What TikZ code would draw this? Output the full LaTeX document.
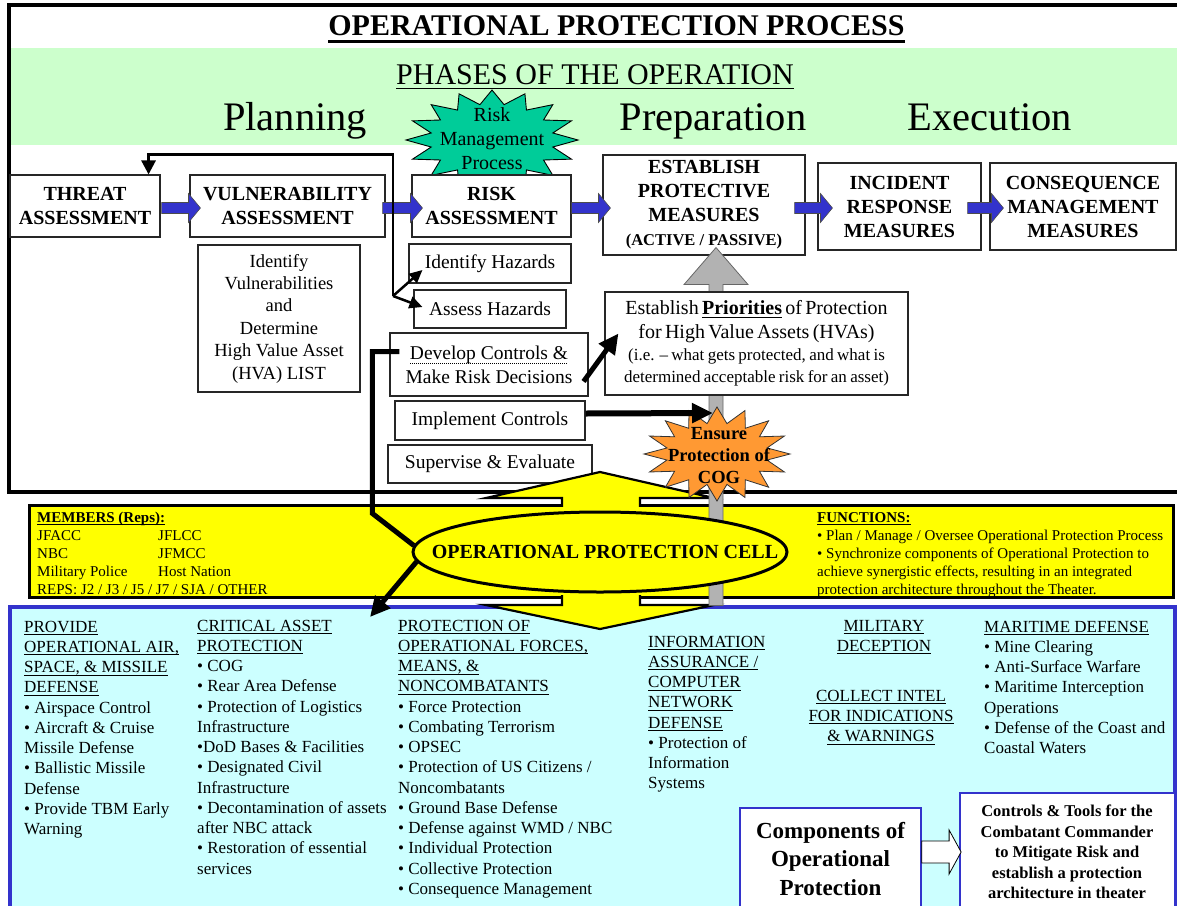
\documentclass[tikz,border=0pt]{standalone}
\usepackage{fontspec}
\setmainfont{Liberation Serif}
\usetikzlibrary{shapes.geometric,arrows.meta,calc}
\definecolor{band}{HTML}{CCFFCC}
\definecolor{rmpgreen}{HTML}{00CC99}
\definecolor{arrblue}{HTML}{3333CC}
\definecolor{graya}{HTML}{B2B2B2}
\definecolor{cogorange}{HTML}{FF9933}
\definecolor{ylw}{HTML}{FFFF00}
\definecolor{cyanbg}{HTML}{CCFFFF}
\newcommand{\fs}[2]{\fontsize{#1}{#2}\selectfont}
\newcommand{\undlx}[3]{\setbox0=\hbox{#3}\leavevmode\rlap{\rule[#1]{\wd0}{#2}}\box0}
\newcommand{\undl}[1]{\undlx{-0.18em}{0.06em}{#1}}
\newcommand{\dotul}[1]{\setbox0=\hbox{#1}\leavevmode\rlap{\raisebox{-0.22em}{\hbox to \wd0{\leaders\hbox to 2pt{\hss\rule{0.9pt}{0.6pt}\hss}\hfil}}}\box0}
\newcommand{\barrow}[3]{\filldraw[#3] let \p1=(#1), \p2=(#2) in
  (\x1,\y2+5.5pt) -- (\x2-12pt,\y2+5.5pt) -- (\x2-12pt,\y2+14.5pt) -- (\x2,\y2)
  -- (\x2-12pt,\y2-14.5pt) -- (\x2-12pt,\y2-5.5pt) -- (\x1,\y2-5.5pt) -- cycle;}
\begin{document}
\begin{tikzpicture}[x=1pt,y=-1pt,line join=miter,
  box/.style={draw=black!85, line width=1.1pt, fill=white, inner sep=0pt, align=center},
  hdr/.style={box, font=\bfseries\fs{20}{24}},
  sub/.style={box, font=\fs{19.5}{24}},
  barrowst/.style={fill=arrblue, draw=black!70, line width=0.6pt},
  fbline/.style={line width=2.8pt, -{Triangle[length=14pt,width=14pt]}},
  brline/.style={line width=2.5pt, -{Triangle[length=13pt,width=12pt]}},
  bigarr/.style={line width=5pt, -{Triangle[length=20pt,width=19pt]}},
  hugearr/.style={line width=6pt, -{Triangle[length=21pt,width=19pt]}},
  col/.style={anchor=north west, inner sep=0pt, align=left, font=\fs{17}{20.25}},
  txt/.style={inner sep=0pt, align=center}
]
\useasboundingbox (0,0) rectangle (1177,905);
% frame and band
\draw[line width=4pt] (8.5,5) rectangle (1200,492);
\fill[band] (10.5,48) rectangle (1177,145);
\node[txt, anchor=base, font=\bfseries\fs{30}{36}] (title) at (616.5,35) {\undlx{-0.26em}{0.09em}{OPERATIONAL PROTECTION PROCESS}};
\node[txt, anchor=base, font=\fs{30}{36}] (phases) at (595,84) {\undlx{-0.18em}{0.05em}{PHASES OF THE OPERATION}};
\node[txt, anchor=base, font=\fs{40.5}{48}] (planning) at (295,130) {Planning};
\node[txt, anchor=base, font=\fs{40.5}{48}] (preparation) at (713,130) {Preparation};
\node[txt, anchor=base, font=\fs{40.5}{48}] (execution) at (990,130) {Execution};
% risk management star
\filldraw[fill=rmpgreen, draw=black, line width=0.9pt] plot[samples=33, domain=0:32, variable=\t]
  ({492+(74+12*cos(180*\t))*cos(11.25*\t)}, {140+(43+7*cos(180*\t))*sin(11.25*\t)}) -- cycle;
\node[txt, font=\fs{20}{24}] (rmp) at (492,139) {Risk\\Management\\Process};
% main boxes
\node[hdr, minimum width=150, minimum height=62] (threat) at (85,206) {THREAT\\ASSESSMENT};
\node[hdr, minimum width=195, minimum height=62] (vuln) at (287.5,206) {VULNERABILITY\\ASSESSMENT};
\node[hdr, minimum width=159, minimum height=62] (risk) at (491.5,206) {RISK\\ASSESSMENT};
\node[hdr, minimum width=202, minimum height=100] (est) at (704,205) {ESTABLISH\\PROTECTIVE\\MEASURES\\{\fs{16.5}{20}(ACTIVE / PASSIVE)}};
\node[hdr, minimum width=163, minimum height=87] (inc) at (899.5,206.5) {INCIDENT\\RESPONSE\\MEASURES};
\node[hdr, minimum width=186, minimum height=87] (cons) at (1083,206.5) {CONSEQUENCE\\MANAGEMENT\\MEASURES};
% blue block arrows
\barrow{$(threat.east)+(1,2)$}{$(vuln.west)+(11,2)$}{barrowst}
\barrow{$(vuln.east)+(-3,2)$}{$(risk.west)+(11,2)$}{barrowst}
\barrow{$(risk.east)+(0,2)$}{$(est.west)+(8,3)$}{barrowst}
\barrow{$(est.east)+(-11,3)$}{$(inc.west)+(15,1.5)$}{barrowst}
\barrow{$(inc.east)+(-14,1.5)$}{$(cons.west)+(14,1.5)$}{barrowst}
% sub boxes
\node[box, font=\fs{18.5}{22.4}, minimum width=162, minimum height=147] (vlist) at (279,318.5) {Identify\\Vulnerabilities\\and\\Determine\\High Value Asset\\(HVA) LIST};
\node[sub, minimum width=162, minimum height=39] (idhaz) at (490,263.5) {Identify Hazards};
\node[sub, minimum width=152, minimum height=38] (assess) at (490,309) {Assess Hazards};
\node[sub, minimum width=198, minimum height=63] (develop) at (489,364.5) {\dotul{Develop Controls \&}\\Make Risk Decisions};
\node[sub, minimum width=190, minimum height=39] (implement) at (490,420.5) {Implement Controls};
\node[sub, minimum width=204, minimum height=38] (supervise) at (490,464) {Supervise \& Evaluate};
% feedback connector
\coordinate (fb) at (393,296);
\coordinate (tin) at ($(threat.north east)+(-12,0)$);
\draw[fbline] (fb) |- ($(tin)+(0,-20)$) -- (tin);
\draw[brline] (fb) -- ($(idhaz.west)+(14,6.5)$);
\draw[brline] (fb) -- ($(assess.west)+(9,-2)$);
% bottom cyan area
\filldraw[fill=cyanbg, draw=arrblue, line width=4pt] (10,607) rectangle (1175,930);
% yellow cell band
\filldraw[fill=ylw, draw=black, line width=3pt] (29,505) rectangle (1173,597);
\filldraw[fill=ylw, draw=black, line width=2.2pt] (600,472) -- (714,498) -- (640,498) -- (640,605) -- (714,605) -- (600,629) -- (486,605) -- (562,605) -- (562,498) -- (486,498) -- cycle;
\fill[ylw] (31,507) rectangle (1171,595);
\node[anchor=north west, inner sep=0pt, align=left, font=\fs{15}{18}] (members) at (37,509.4) {\strut\textbf{\undlx{-0.2em}{0.09em}{MEMBERS (Reps):}}\\\makebox[121pt][l]{JFACC}JFLCC\\\makebox[121pt][l]{NBC}JFMCC\\\makebox[121pt][l]{Military Police}Host Nation\\REPS: J2 / J3 / J5 / J7 / SJA / OTHER};
\node[anchor=north west, inner sep=0pt, align=left, font=\fs{15}{18}] (functions) at (817,509.4) {\strut\textbf{\undlx{-0.2em}{0.09em}{FUNCTIONS:}}\\• Plan / Manage / Oversee Operational Protection Process\\• Synchronize components of Operational Protection to\\achieve synergistic effects, resulting in an integrated\\protection architecture throughout the Theater.};
% gray arrow
\filldraw[fill=graya, draw=black!60, line width=0.8pt] let \p1=($(est.south)+(12,-8)$) in
  (\x1-7pt,\y1-358pt) -- (\x1-7pt,\y1-37pt) -- (\x1-32pt,\y1-37pt) -- (\x1,\y1) -- (\x1+32pt,\y1-37pt) -- (\x1+7pt,\y1-37pt) -- (\x1+7pt,\y1-358pt) -- cycle;
\node[box, text width=300, minimum width=303, minimum height=103] (prior) at (756.5,343.5) {{\fs{20}{24}Establish \textbf{\undl{Priorities}} of Protection\\for High Value Assets (HVAs)\par}{\fs{17}{22}(i.e. -- what gets protected, and what is\\determined acceptable risk for an asset)\par}};
% COG star
\filldraw[fill=cogorange, draw=black!80, line width=0.8pt] plot[samples=33, domain=0:32, variable=\t]
  ({717+(62+11*cos(180*\t))*cos(11.25*\t)}, {454+(39+8*cos(180*\t))*sin(11.25*\t)}) -- cycle;
\node[txt, font=\bfseries\fs{18.5}{22}] (cog) at (719,456) {Ensure\\Protection of\\COG};
% ellipse
\node[ellipse, draw=black, line width=3pt, fill=ylw, minimum width=374, minimum height=80, inner sep=0pt] (cell) at (600,552) {};
\node[txt, font=\bfseries\fs{20}{24}] (celltext) at (605,552) {OPERATIONAL PROTECTION CELL};
% connectors
\coordinate (shaftpt) at (713,413);
\coordinate (crit) at (370,617);
\draw[bigarr] ($(develop.east)+(-5,17)$) -- ($(prior.west)+(14,-10)$);
\draw[hugearr] ($(implement.east)+(0,-7)$) -- (shaftpt);
\draw[line width=5pt] ($(develop.west)+(10,-13)$) -- ++(-27,0) -- ++(0,162) -- (cell.178);
\draw[bigarr] (cell.183) -- (crit);
% columns
\node[col] (c1) at (24,617.8) {\strut\undl{PROVIDE}\\\undl{OPERATIONAL AIR,}\\\undl{SPACE, \& MISSILE}\\\undl{DEFENSE}\\• Airspace Control\\• Aircraft \& Cruise\\Missile Defense\\• Ballistic Missile\\Defense\\• Provide TBM Early\\Warning};
\node[col] (c2) at (197,616.8) {\strut\undl{CRITICAL ASSET}\\\undl{PROTECTION}\\• COG\\• Rear Area Defense\\• Protection of Logistics\\Infrastructure\\•DoD Bases \& Facilities\\• Designated Civil\\Infrastructure\\• Decontamination of assets\\after NBC attack\\• Restoration of essential\\services};
\node[col] (c3) at (398,616.8) {\strut\undl{PROTECTION OF}\\\undl{OPERATIONAL FORCES,}\\\undl{MEANS, \&}\\\undl{NONCOMBATANTS}\\• Force Protection\\• Combating Terrorism\\• OPSEC\\• Protection of US Citizens /\\Noncombatants\\• Ground Base Defense\\• Defense against WMD / NBC\\• Individual Protection\\• Collective Protection\\• Consequence Management};
\node[col] (c4) at (648,632.8) {\strut\undl{INFORMATION}\\\undl{ASSURANCE /}\\\undl{COMPUTER}\\\undl{NETWORK}\\\undl{DEFENSE}\\• Protection of\\Information\\Systems};
\node[col, anchor=north, align=center] (c5a) at (884,616.8) {\strut\undl{MILITARY}\\\undl{DECEPTION}};
\node[col, anchor=north, align=center] (c5b) at (881,686.8) {\strut\undl{COLLECT INTEL}\\\undl{FOR INDICATIONS}\\\undl{\& WARNINGS}};
\node[col] (c6) at (984,617.8) {\strut\undl{MARITIME DEFENSE}\\• Mine Clearing\\• Anti-Surface Warfare\\• Maritime Interception\\Operations\\• Defense of the Coast and\\Coastal Waters};
% bottom boxes
\node[box, draw=arrblue, line width=1.5pt, minimum width=181, minimum height=107] (comp) at (830.5,861.5) {};
\node[txt, font=\bfseries\fs{23}{28.5}] (comptext) at (830.5,859) {Components of\\Operational\\Protection};
\node[box, draw=arrblue, line width=1.8pt, minimum width=215, minimum height=122] (ctrl) at (1067.5,854) {};
\node[txt, font=\bfseries\fs{16.5}{20.5}] (ctrltext) at (1067,852) {Controls \& Tools for the\\Combatant Commander\\to Mitigate Risk and\\establish a protection\\architecture in theater};
\filldraw[fill=white, draw=black, line width=0.8pt] let \p1=(comp.east), \p2=(ctrl.west) in
  (\x1,\y2+13pt) -- (\x2-10pt,\y2+13pt) -- (\x2-10pt,\y2+24pt) -- (\x2+2pt,\y2+2pt) -- (\x2-10pt,\y2-20pt) -- (\x2-10pt,\y2-9pt) -- (\x1,\y2-9pt) -- cycle;
\end{tikzpicture}
\end{document}
